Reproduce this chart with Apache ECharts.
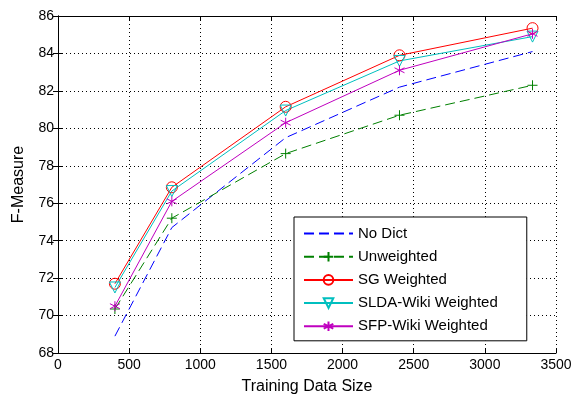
<!DOCTYPE html>
<html>
<head>
<meta charset="utf-8">
<script src="https://cdn.jsdelivr.net/npm/echarts@6/dist/echarts.min.js"></script>
<style>
html,body{margin:0;padding:0;background:#fff;}
#c{width:572px;height:394px;}
</style>
</head>
<body>
<div id="c"></div>
<script>
const trainSizes = [400, 800, 1600, 2400, 3335];
const noDict = [68.9, 74.7, 79.5, 82.2, 84.1];
const unweighted = [70.35, 75.2, 78.65, 80.7, 82.3];
const sgWeighted = [71.7, 76.85, 81.15, 83.9, 85.35];
const sldaWeighted = [71.5, 76.65, 80.95, 83.6, 84.9];
const sfpWeighted = [70.5, 76.1, 80.3, 83.1, 85.05];
const seriesNames = ['No Dict', 'Unweighted', 'SG Weighted', 'SLDA-Wiki Weighted', 'SFP-Wiki Weighted'];
const xTicks = [0, 500, 1000, 1500, 2000, 2500, 3000, 3500];
const yTicks = [68, 70, 72, 74, 76, 78, 80, 82, 84, 86];

const font = 'Liberation Sans, Arial, Helvetica, sans-serif';
const pairs = v => trainSizes.map((x, i) => [x, v[i]]);

const plusPath = 'path://M5,0L5,10M0,5L10,5';
const starPath = 'path://M5,0L5,10M0.7,2.5L9.3,7.5M0.7,7.5L9.3,2.5';

function mk(name, data, color, dashed, symbol, size, rotate, hidden) {
  return {
    name: name, type: 'line', data: pairs(data),
    symbol: symbol, symbolSize: size, symbolRotate: rotate || 0,
    showSymbol: true,
    lineStyle: {color: color, width: 1, type: dashed ? [10, 5] : 'solid'},
    itemStyle: hidden
      ? {color: 'rgba(0,0,0,0)', borderColor: 'rgba(0,0,0,0)', borderWidth: 0}
      : {color: 'rgba(0,0,0,0)', borderColor: color, borderWidth: 1},
    emphasis: {disabled: true},
    animation: false, z: 3
  };
}

const chart = echarts.init(document.getElementById('c'), null, {renderer: 'canvas'});
chart.setOption({
  backgroundColor: '#fff',
  animation: false,
  grid: {left: 58, right: 16, top: 16, bottom: 41, containLabel: false, outerBoundsMode: 'none'},
  xAxis: [{
    type: 'value', min: 0, max: 3500, interval: 500,
    name: 'Training Data Size', nameLocation: 'middle', nameGap: 26,
    nameTextStyle: {fontFamily: font, fontSize: 16, color: '#000'},
    axisLine: {lineStyle: {color: '#000', width: 1}},
    axisTick: {inside: true, length: 5, lineStyle: {color: '#000'}},
    axisLabel: {fontFamily: font, fontSize: 14, color: '#000', margin: 5, formatter: v => String(v)},
    splitLine: {show: true, lineStyle: {color: '#000', type: [1, 3], width: 1}}
  }, {
    type: 'value', min: 0, max: 3500, interval: 500, position: 'top',
    axisLine: {show: true, lineStyle: {color: '#000', width: 1}},
    axisTick: {show: true, inside: true, length: 5, lineStyle: {color: '#000'}},
    axisLabel: {show: false}, splitLine: {show: false}
  }],
  yAxis: [{
    type: 'value', min: 68, max: 86, interval: 2,
    name: 'F-Measure', nameLocation: 'middle', nameGap: 31,
    nameTextStyle: {fontFamily: font, fontSize: 16, color: '#000'},
    axisLine: {show: true, lineStyle: {color: '#000', width: 1}},
    axisTick: {show: true, inside: true, length: 5, lineStyle: {color: '#000'}},
    axisLabel: {fontFamily: font, fontSize: 14, color: '#000', margin: 4, formatter: v => String(v)},
    splitLine: {show: true, lineStyle: {color: '#000', type: [1, 3], width: 1}}
  }, {
    type: 'value', min: 68, max: 86, interval: 2, position: 'right',
    axisLine: {show: true, lineStyle: {color: '#000', width: 1}},
    axisTick: {show: true, inside: true, length: 5, lineStyle: {color: '#000'}},
    axisLabel: {show: false}, splitLine: {show: false}
  }],
  legend: {
    orient: 'vertical', left: 294, top: 217,
    data: seriesNames,
    itemWidth: 49, itemHeight: 12, itemGap: 8.2,
    padding: [9, 29, 7, 9],
    backgroundColor: '#fff', borderColor: '#000', borderWidth: 1,
    textStyle: {fontFamily: font, fontSize: 15, color: '#000'},
    selectedMode: false
  },
  series: [
    mk(seriesNames[0], noDict, '#0000ff', true, 'circle', 1, 0, true),
    mk(seriesNames[1], unweighted, '#008000', true, plusPath, 10),
    mk(seriesNames[2], sgWeighted, '#ff0000', false, 'circle', 11),
    mk(seriesNames[3], sldaWeighted, '#00bfbf', false, 'triangle', 11, 180),
    mk(seriesNames[4], sfpWeighted, '#bf00bf', false, starPath, 10)
  ]
});
</script>
</body>
</html>
